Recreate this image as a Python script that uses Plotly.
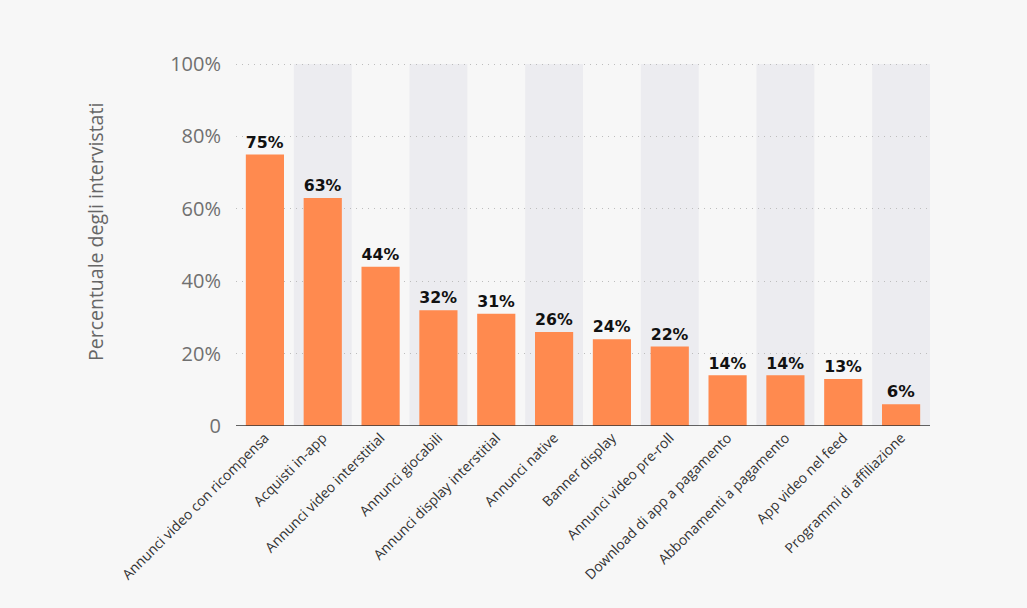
import plotly.graph_objects as go

categories = [
    "Annunci video con ricompensa",
    "Acquisti in-app",
    "Annunci video interstitial",
    "Annunci giocabili",
    "Annunci display interstitial",
    "Annunci native",
    "Banner display",
    "Annunci video pre-roll",
    "Download di app a pagamento",
    "Abbonamenti a pagamento",
    "App video nel feed",
    "Programmi di affiliazione",
]
values = [75, 63, 44, 32, 31, 26, 24, 22, 14, 14, 13, 6]
tick_vals = [0, 20, 40, 60, 80, 100]
tick_text = ["0", "20%", "40%", "60%", "80%", "100%"]
y_title = "Percentuale degli intervistati"

fig = go.Figure()

shapes = []
for i in range(len(categories)):
    if i % 2 == 1:
        shapes.append(dict(type="rect", xref="x", yref="y", x0=i - 0.5, x1=i + 0.5,
                           y0=0, y1=100, fillcolor="#ececf0", line=dict(width=0), layer="below"))
shapes.append(dict(type="line", xref="paper", yref="y", x0=0, x1=1, y0=0, y1=0,
                   line=dict(color="#333333", width=1.5), layer="above"))

fig.add_trace(go.Bar(
    x=categories, y=values,
    marker=dict(color="#ff8a4f", line=dict(width=0)),
    width=0.66,
    text=[f"{v}%" for v in values],
    textposition="outside",
    textfont=dict(family="DejaVu Sans", size=16.5, color="#111111", weight="bold"),
    cliponaxis=False,
))

L, R, T, B = 236, 97, 63, 182
PW, PH = 1027 - L - R, 608 - T - B

fig.update_layout(
    width=1027, height=608,
    paper_bgcolor="#f7f7f7", plot_bgcolor="#f7f7f7",
    margin=dict(l=L, r=R, t=T, b=B),
    shapes=shapes,
    showlegend=False,
    font=dict(family="Open Sans", color="#333333"),
    annotations=[dict(text=y_title, xref="paper", yref="paper",
                      x=(95 - L) / PW, y=(608 - B - 232) / PH, xanchor="center", yanchor="middle",
                      textangle=-90, showarrow=False,
                      font=dict(family="Open Sans", size=19.5, color="#666666"))],
)
fig.update_xaxes(
    type="category", tickangle=-45, showgrid=False, showline=False,
    tickfont=dict(family="Open Sans", size=14, color="#333333"),
    range=[-0.5, len(categories) - 0.5], ticks="",
)
fig.update_yaxes(
    range=[0, 100.3], tickvals=tick_vals, ticktext=tick_text,
    showgrid=True, gridcolor="#bdbdbd", griddash="1px,5px", gridwidth=1,
    zeroline=False, showline=False, ticks="", ticklabelstandoff=14,
    tickfont=dict(family="Open Sans", size=20, color="#707070"),
)

fig.write_html("out.html", config={"displayModeBar": False},
               post_script="document.body.style.margin='0';document.body.style.background='#f7f7f7';")
